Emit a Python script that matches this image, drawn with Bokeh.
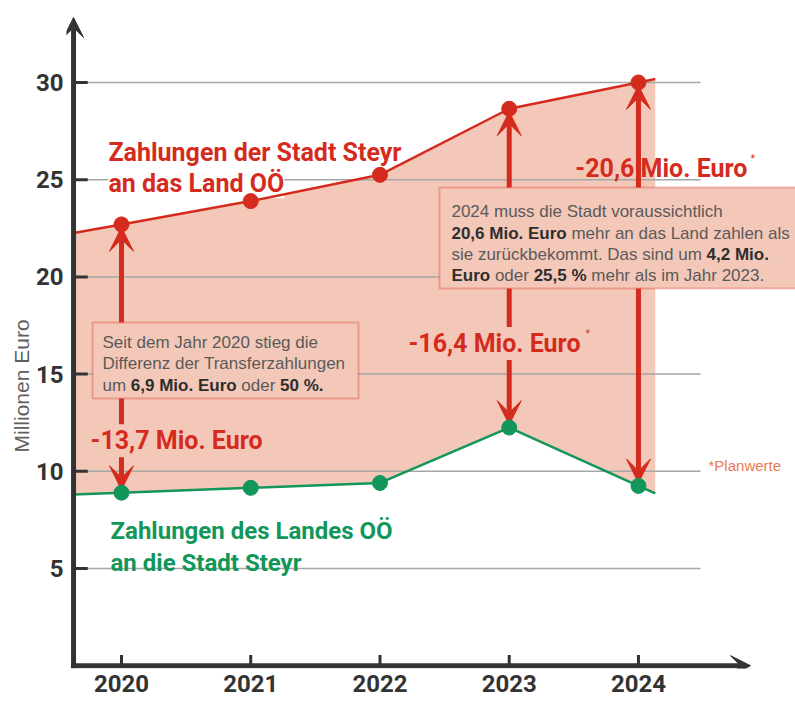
import math
from bokeh.plotting import figure
from bokeh.models import Label, Arrow, VeeHead, BoxAnnotation, FixedTicker, Title
from bokeh.embed import file_html
from bokeh.resources import INLINE

# ---------------- data ----------------
years = [2020, 2021, 2022, 2023, 2024]
stadt_an_land = [22.7, 23.9, 25.25, 28.65, 30.0]   # Zahlungen der Stadt Steyr an das Land OÖ
land_an_stadt = [8.9, 9.15, 9.4, 12.25, 9.25]      # Zahlungen des Landes OÖ an die Stadt Steyr
y_ticks = [5, 10, 15, 20, 25, 30]
diff_years = [2020, 2023, 2024]
diff_labels = ["-13,7 Mio. Euro", "-16,4 Mio. Euro", "-20,6 Mio. Euro"]
diff_planned = [False, True, True]

RED = "#d52b1e"
GREEN = "#12965a"
FILL = "#f4c8b8"
DARK = "#333333"
GRID = "#a6a6a6"
TXT = "#5a5a5a"

BOLDF = "Roboto"
SANS = "Liberation Sans"

# ---------------- geometry ----------------
X_AXIS = 2019.629      # position of vertical axis
X_END_LINE = 2024.13   # where the lines stop
X_GRID_END = 2024.48
X_ARROW_TIP = 2024.867
Y_ARROW_TIP = 33.34

p = figure(frame_width=729, frame_height=668,
           x_range=(2019.5745, 2025.215), y_range=(-0.144, 34.218),
           min_border_left=66, min_border_right=0, min_border_top=0, min_border_bottom=37,
           output_backend="svg", toolbar_location=None, background_fill_color="white")
p.outline_line_color = None
p.grid.visible = False

for ax in (p.xaxis, p.yaxis):
    ax.axis_line_color = None
    ax.major_tick_line_color = None
    ax.minor_tick_line_color = None
    ax.major_tick_in = 0
    ax.major_tick_out = 0
    ax.major_label_text_font = BOLDF
    ax.major_label_text_font_style = "bold"
    ax.major_label_text_color = DARK
    ax.major_label_text_font_size = "24px"
p.yaxis.ticker = FixedTicker(ticks=y_ticks)
p.xaxis.ticker = FixedTicker(ticks=years)
p.yaxis.major_label_standoff = 3
p.xaxis.major_label_standoff = 6

p.add_layout(Title(text="Millionen Euro", text_font=SANS, text_font_style="normal",
                   text_font_size="21px", text_color="#5f5f5f", align="left",
                   offset=216, standoff=0), "left")


def extend(xs, ys, x_left, x_right):
    sl = (ys[1] - ys[0]) / (xs[1] - xs[0])
    sr = (ys[-1] - ys[-2]) / (xs[-1] - xs[-2])
    return ([x_left] + list(xs) + [x_right],
            [ys[0] + sl * (x_left - xs[0])] + list(ys) + [ys[-1] + sr * (x_right - xs[-1])])


xr, red_ext = extend(years, stadt_an_land, X_AXIS, X_END_LINE)
_, green_ext = extend(years, land_an_stadt, X_AXIS, X_END_LINE)

# filled difference area
p.varea(x=xr, y1=green_ext, y2=red_ext, fill_color=FILL, level="underlay")

# grid lines
p.segment(x0=[X_AXIS] * len(y_ticks), y0=y_ticks, x1=[X_GRID_END] * len(y_ticks), y1=y_ticks,
          line_color=GRID, line_width=1.5, level="underlay")

# ticks
p.segment(x0=[X_AXIS] * len(y_ticks), y0=y_ticks, x1=[X_AXIS + 0.11] * len(y_ticks), y1=y_ticks,
          line_color=DARK, line_width=3)
p.segment(x0=years, y0=[0] * len(years), x1=years, y1=[0.55] * len(years),
          line_color=DARK, line_width=3)

# label with white background that hides the grid line but stays below the points
p.add_layout(Label(x=2019.899, y=24.79, text="an das Land OÖ", text_font=BOLDF,
                   text_font_style="bold", text_font_size="25px", text_color=RED,
                   text_baseline="alphabetic", background_fill_color="white", padding=0,
                   level="underlay"))

# difference arrows
lookup_r = dict(zip(years, stadt_an_land))
lookup_g = dict(zip(years, land_an_stadt))
for yr in diff_years:
    p.add_layout(Arrow(x_start=yr, y_start=lookup_g[yr] + 0.15, x_end=yr, y_end=lookup_r[yr] - 0.15,
                       line_color=RED, line_width=5, level="underlay",
                       start=VeeHead(size=24, fill_color=RED, line_color=RED, line_width=1),
                       end=VeeHead(size=24, fill_color=RED, line_color=RED, line_width=1)))

# lines and points
p.line(xr, red_ext, line_color=RED, line_width=2.5)
p.line(xr, green_ext, line_color=GREEN, line_width=2.5)
p.scatter(years, stadt_an_land, size=15, fill_color=RED, line_color=RED)
p.scatter(years, land_an_stadt, size=15, fill_color=GREEN, line_color=GREEN)

# axes with arrow heads
p.add_layout(Arrow(x_start=X_AXIS, y_start=-0.13, x_end=X_AXIS, y_end=Y_ARROW_TIP,
                   line_color=DARK, line_width=5,
                   end=VeeHead(size=20, fill_color=DARK, line_color=DARK, line_width=1)))
p.add_layout(Arrow(x_start=X_AXIS - 0.02, y_start=0, x_end=X_ARROW_TIP, y_end=0,
                   line_color=DARK, line_width=5,
                   end=VeeHead(size=20, fill_color=DARK, line_color=DARK, line_width=1)))

# ---------------- text helpers ----------------
AR = {' ': 278, '%': 889, ',': 278, '.': 278, '-': 333, 'A': 667, 'D': 722, 'E': 667, 'J': 500,
      'L': 556, 'M': 833, 'S': 667, 'T': 611, 'a': 556, 'b': 556, 'c': 500, 'd': 556, 'e': 556,
      'f': 278, 'g': 556, 'h': 556, 'i': 222, 'j': 222, 'k': 500, 'l': 222, 'm': 833, 'n': 556,
      'o': 556, 'p': 556, 'r': 333, 's': 500, 't': 278, 'u': 556, 'v': 500, 'w': 722, 'z': 500,
      'ü': 556}
AB = {' ': 278, '%': 889, ',': 278, '.': 278, '-': 333, 'E': 667, 'M': 833, 'i': 278, 'o': 611,
      'r': 389, 'u': 611}


def tw(s, table, size):
    return sum(table.get(c, 556) for c in s) * size / 1000.0


def rich_line(x, y, segs, size):
    off = 0.0
    for txt, bold in segs:
        table = AB if bold else AR
        lead = len(txt) - len(txt.lstrip(' '))
        off += tw(' ' * lead, table, size)
        core = txt.strip(' ')
        if core:
            p.add_layout(Label(x=x, y=y, x_offset=off, text=core, text_font=SANS,
                               text_font_style="bold" if bold else "normal",
                               text_font_size=f"{size}px",
                               text_color="#2e2e2e" if bold else TXT,
                               text_baseline="alphabetic", text_align="left"))
        off += tw(txt.lstrip(' '), table, size)


# series labels
p.add_layout(Label(x=2019.899, y=26.39, text="Zahlungen der Stadt Steyr", text_font=BOLDF,
                   text_font_style="bold", text_font_size="25px", text_color=RED,
                   text_baseline="alphabetic"))
p.add_layout(Label(x=2019.915, y=6.94, text="Zahlungen des Landes OÖ", text_font=BOLDF,
                   text_font_style="bold", text_font_size="24px", text_color=GREEN,
                   text_baseline="alphabetic"))
p.add_layout(Label(x=2019.915, y=5.30, text="an die Stadt Steyr", text_font=BOLDF,
                   text_font_style="bold", text_font_size="24px", text_color=GREEN,
                   text_baseline="alphabetic"))

# difference labels: (x, align, baseline y, background)
diff_pos = {2020: (2019.745, "left", 11.57, True),
            2023: (2023.567, "right", 16.57, True),
            2024: (2024.843, "right", 25.57, False)}
for yr, lab, planned in zip(diff_years, diff_labels, diff_planned):
    x, align, y, bg = diff_pos[yr]
    kw = dict(background_fill_color=FILL, padding=2) if bg else {}
    p.add_layout(Label(x=x, y=y, text=lab, text_font=BOLDF, text_font_style="bold",
                       text_align=align, text_font_size="25px", text_color=RED,
                       text_baseline="alphabetic", **kw))
    if planned:
        p.add_layout(Label(x=x, y=y, x_offset=3, y_offset=10, text="*",
                           text_font=SANS, text_font_size="12px", text_color=RED,
                           text_baseline="alphabetic"))

# info boxes
p.add_layout(BoxAnnotation(left=2019.776, right=2021.834, top=17.65, bottom=13.74,
                           fill_color=FILL, fill_alpha=1, line_color=RED, line_width=2))
rich_line(2019.853, 16.63, [("Seit dem Jahr 2020 stieg die", False)], 17)
rich_line(2019.853, 15.52, [("Differenz der Transferzahlungen", False)], 17)
rich_line(2019.853, 14.41, [("um ", False), ("6,9 Mio. Euro", True), (" oder ", False), ("50 %.", True)], 17)

p.add_layout(BoxAnnotation(left=2022.460, right=2025.6, top=24.60, bottom=19.40,
                           fill_color=FILL, fill_alpha=1, line_color=RED, line_width=2))
rich_line(2022.553, 23.34, [("2024 muss die Stadt voraussichtlich", False)], 17)
rich_line(2022.553, 22.24, [("20,6 Mio. Euro", True), (" mehr an das Land zahlen als", False)], 17)
rich_line(2022.553, 21.15, [("sie zurückbekommt. Das sind um ", False), ("4,2 Mio.", True)], 17)
rich_line(2022.553, 20.05, [("Euro", True), (" oder ", False), ("25,5 %", True),
                            (" mehr als im Jahr 2023.", False)], 17)

# footnote
p.add_layout(Label(x=2024.542, y=10.30, text="*Planwerte", text_font=SANS, text_font_size="15px",
                   text_color="#ea7a55", text_baseline="alphabetic"))

open("out.html", "w").write(file_html(p, INLINE))
